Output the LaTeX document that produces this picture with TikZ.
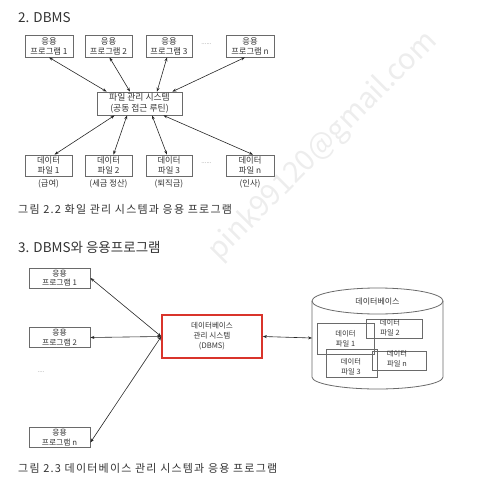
\documentclass[tikz,border=0pt]{standalone}
\usepackage{fontspec}
\setmainfont{Noto Sans CJK KR}
\usetikzlibrary{arrows.meta,calc}
\definecolor{txt}{HTML}{333333}
\definecolor{bord}{HTML}{6A6A6A}
\definecolor{redb}{HTML}{D9342B}
\begin{document}
\begin{tikzpicture}[x=1pt,y=-1pt,
  every node/.style={text=txt, inner sep=0pt, align=center},
  box/.style={draw=bord, line width=0.8pt, minimum height=22pt, font=\fontsize{8.3}{10}\selectfont},
  lbox/.style={draw=bord, line width=0.8pt, minimum width=61pt, minimum height=20pt, font=\fontsize{7.8}{9.5}\selectfont},
  fbox/.style={draw=bord, line width=0.8pt, font=\fontsize{7.3}{10}\selectfont},
  lbl/.style={font=\fontsize{8.3}{10}\selectfont},
  dotsty/.style={font=\fontsize{6}{6}\selectfont, text=gray},
  conn/.style={draw=black!85, line width=0.6pt, {Stealth[length=4pt,width=3pt]}-{Stealth[length=4pt,width=3pt]}},
  ttl/.style={font=\fontsize{13.5}{15}\selectfont, anchor=base west},
  captxt/.style={font=\fontsize{11}{13}\selectfont\addfontfeature{LetterSpace=11}, anchor=base west}]
\useasboundingbox (0,0) rectangle (484,500);

% watermark
\node[rotate=45, text=black!7, font=\fontsize{29}{30}\selectfont] (wm) at (323,146) {pink99120@gmail.com};

% ---------- Section 2. DBMS ----------
\node[ttl] (t2) at (18,23) {2. DBMS};

\node[box, minimum width=48pt] (a1) at (49,46) {응용\\프로그램 1};
\node[box, minimum width=47pt] (a2) at (108.5,46) {응용\\프로그램 2};
\node[box, minimum width=46pt] (a3) at (169,46) {응용\\프로그램 3};
\node[dotsty] (ad) at (206.5,44) {......};
\node[box, minimum width=48pt] (an) at (250,46) {응용\\프로그램 n};

\node[box, minimum width=85pt, minimum height=23pt, font=\fontsize{8.8}{11}\selectfont] (fms) at (139.5,103.5) {파일 관리 시스템\\(공동 접근 루틴)};

\node[box, minimum width=47pt, minimum height=21pt] (d1) at (48.5,165.5) {데이터\\파일 1};
\node[box, minimum width=47pt, minimum height=21pt] (d2) at (108.5,165.5) {데이터\\파일 2};
\node[box, minimum width=46pt, minimum height=21pt] (d3) at (169,165.5) {데이터\\파일 3};
\node[dotsty] (dd) at (206.5,163) {......};
\node[box, minimum width=48pt, minimum height=21pt] (dn) at (250,165.5) {데이터\\파일 n};

\node[lbl] (l1) at (48.5,184) {(급여)};
\node[lbl] (l2) at (108.5,184) {(세금 정산)};
\node[lbl] (l3) at (169,184) {(퇴직금)};
\node[lbl] (ln) at (250,184) {(인사)};

\draw[conn] (a1.south) -- ($(fms.north west)+(10,0)$);
\draw[conn] ($(a2.south)+(1,0)$) -- ($(fms.north)+(-9.5,0)$);
\draw[conn] ($(a3.south)+(-2,0)$) -- ($(fms.north)+(17.5,0)$);
\draw[conn] ($(an.south)+(-5,0)$) -- ($(fms.north east)+(-10,0)$);

\draw[conn] ($(fms.south west)+(18,0)$) -- ($(d1.north)+(6,0)$);
\draw[conn] ($(fms.south)+(-12.5,0)$) -- ($(d2.north)+(5,0)$);
\draw[conn] ($(fms.south)+(12.5,0)$) -- ($(d3.north)+(-2,0)$);
\draw[conn] ($(fms.south east)+(-19,0)$) -- ($(dn.north)+(3,0)$);

\node[captxt] (c1) at (18,213) {그림 2.2 화일 관리 시스템과 응용 프로그램};

% ---------- Section 3 ----------
\node[ttl] (t3) at (18,252) {3. DBMS와 응용프로그램};

\node[lbox] (p1) at (59.5,278) {응용\\프로그램 1};
\node[lbox] (p2) at (59.5,337.5) {응용\\프로그램 2};
\node[dotsty] (pd) at (41,372) {....};
\node[lbox] (pn) at (59.5,437.5) {응용\\프로그램 n};

\node[draw=redb, line width=1.6pt, minimum width=100pt, minimum height=43pt, font=\fontsize{7.6}{10}\selectfont] (dbms) at (212,336.5) {데이터베이스\\관리 시스템\\(DBMS)};

\draw[conn] (p1.east) -- (dbms.west);
\draw[conn] (p2.east) -- (dbms.west);
\draw[conn] ($(pn.east)+(0,5)$) -- (dbms.west);

% database cylinder
\coordinate (dbl) at (312,338);
\draw[draw=bord, line width=0.8pt] (377.5,301) ellipse [x radius=65.5pt, y radius=13pt];
\draw[draw=bord, line width=0.8pt] (312,301) -- (312,377) arc[start angle=180, end angle=360, x radius=65.5pt, y radius=12pt] -- (443,301);
\node[font=\fontsize{8}{10}\selectfont] (dbt) at (377.5,302) {데이터베이스};

\draw[conn] (dbms.east) -- (dbl);

\node[fbox, minimum width=57pt, minimum height=31pt] (f1) at (345.5,338.5) {데이터\\파일 1};
\node[fbox, minimum width=56pt, minimum height=19pt] (f2) at (394,328.5) {};
\node[fbox, minimum width=51pt, minimum height=28pt] (f3) at (351.5,363) {};
\node[fbox, minimum width=54pt, minimum height=19pt] (fn) at (399,360.5) {};
\node[font=\fontsize{7.3}{10}\selectfont] (f2t) at (390,328) {데이터\\파일 2};
\node[font=\fontsize{7.3}{10}\selectfont] (f3t) at (351,367) {데이터\\파일 3};
\node[font=\fontsize{7.3}{10}\selectfont] (fnt) at (397,359) {데이터\\파일 n};

\node[captxt] (c2) at (18,472) {그림 2.3 데이터베이스 관리 시스템과 응용 프로그램};
\end{tikzpicture}
\end{document}
